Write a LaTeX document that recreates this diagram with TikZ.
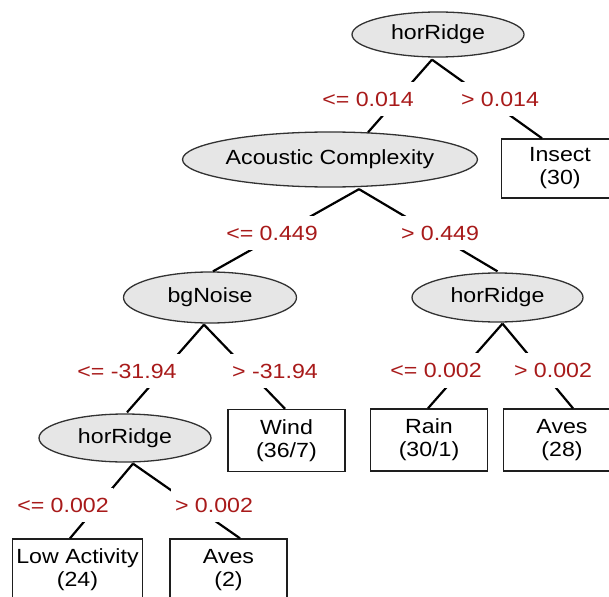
\documentclass[tikz,border=0pt]{standalone}
\usepackage{fontspec}
\setmainfont{Liberation Sans}[FakeStretch=1.13]
\usetikzlibrary{shapes.geometric,calc}

\definecolor{splitred}{RGB}{168,26,26}
\definecolor{splitgray}{RGB}{230,230,230}
\newcommand{\treefont}{\fontsize{20.5pt}{23pt}\selectfont}

\tikzset{every picture/.style={line width=0.75pt},
  split/.style={ellipse,draw={rgb,255:red,50;green,50;blue,50},fill=splitgray,line width=1.3pt,
    minimum width=172pt,minimum height=48pt,inner xsep=0pt,inner ysep=0pt,font=\treefont},
  leaf/.style={rectangle,draw={rgb,255:red,30;green,30;blue,30},line width=1.4pt,
    minimum width=117pt,minimum height=62pt,inner xsep=4pt,align=center,font=\treefont},
  cut/.style={text=splitred,fill=white,inner xsep=4pt,inner ysep=10pt,font=\treefont},
  edge/.style={line width=2.2pt}}

\begin{document}
\begin{tikzpicture}[x=1pt,y=1pt,yscale=-1,xscale=1]
\useasboundingbox (0,0) rectangle (609,596);
\clip (0,0) rectangle (609,596);

%Shape: Ellipse [split nodes]
\node (root) at (438,34.5) [split,minimum height=45pt] {horRidge};
\node (ac) at (330,159.5) [split,minimum height=55pt] {Acoustic Complexity};
\node (bg) at (210,297.5) [split,minimum width=173pt,minimum height=51pt] {bgNoise};
\node (hrr) at (497.5,297.5) [split,minimum width=171pt,minimum height=49pt] {horRidge};
\node (hrl) at (125,438) [split] {horRidge};

%Shape: Rectangle [leaf nodes]
\node (insect) at (560,168.5) [leaf,minimum height=59pt] {Insect\\(30)};
\node (wind) at (286.5,440.5) [leaf] {Wind\\(36/7)};
\node (rain) at (429,440) [leaf] {Rain\\(30/1)};
\node (aves) at (562,440) [leaf] {Aves\\(28)};
\node (low) at (77.5,570) [leaf] {Low Activity\\(24)};
\node (avestwo) at (228.5,570) [leaf] {Aves\\(2)};

%Straight Lines
\draw [edge] ($(root.south)+(-6,2)$) -- ($(ac.north)+(38,1)$);
\draw [edge] ($(root.south)+(-6,2)$) -- ($(insect.north)+(-18,0)$);
\draw [edge] ($(ac.south)+(29,1.5)$) -- ($(bg.north)+(3,0)$);
\draw [edge] ($(ac.south)+(29,1.5)$) -- ($(hrr.north)+(0,-1)$);
\draw [edge] ($(bg.south)+(-6,1)$) -- ($(hrl.north)+(2,-1)$);
\draw [edge] ($(bg.south)+(-6,1)$) -- ($(wind.north)+(-1.5,0)$);
\draw [edge] ($(hrr.south)+(5,1)$) -- ($(rain.north)+(-1,0)$);
\draw [edge] ($(hrr.south)+(5,1)$) -- ($(aves.north)+(11,0)$);
\draw [edge] ($(hrl.south)+(8,1)$) -- ($(low.north)+(-7.5,0)$);
\draw [edge] ($(hrl.south)+(8,1)$) -- ($(avestwo.north)+(11.5,0)$);

% Text Node
\node (cutA) at (368,99) [cut] {<= 0.014};
\node (cutB) at (500,99) [cut] {> 0.014};
\node (cutC) at (272,233) [cut] {<= 0.449};
\node (cutD) at (440,233) [cut] {> 0.449};
\node (cutE) at (127,371) [cut] {<= -31.94};
\node (cutF) at (275,371) [cut] {> -31.94};
\node (cutG) at (436,370.5) [cut] {<= 0.002};
\node (cutH) at (553,370.5) [cut] {> 0.002};
\node (cutI) at (63,505) [cut] {<= 0.002};
\node (cutJ) at (214,505) [cut] {> 0.002};

\end{tikzpicture}
\end{document}
